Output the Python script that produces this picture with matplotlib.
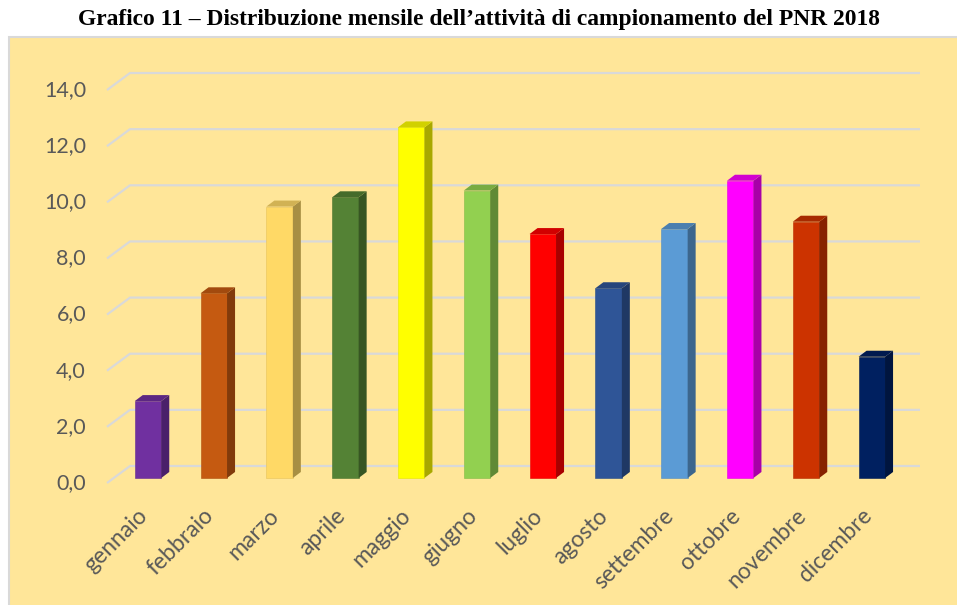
import matplotlib.pyplot as plt
from matplotlib.patches import Rectangle, Polygon

# dati
mesi = ['gennaio', 'febbraio', 'marzo', 'aprile', 'maggio', 'giugno',
        'luglio', 'agosto', 'settembre', 'ottobre', 'novembre', 'dicembre']
valori = [2.74, 6.58, 9.67, 10.0, 12.49, 10.24, 8.69, 6.76, 8.87, 10.59, 9.13, 4.32]
colori = ['#7030A0', '#C55A11', '#FFD966', '#548235', '#FFFF00', '#92D050',
          '#FF0000', '#2F5597', '#5B9BD5', '#FF00FF', '#CC3300', '#002060']
tick_vals = [0, 2, 4, 6, 8, 10, 12, 14]
tick_labels = ['0,0', '2,0', '4,0', '6,0', '8,0', '10,0', '12,0', '14,0']

W, H = 957, 605
PX_CAT = 65.8   # pixel per categoria
PX_VAL = 28.07  # pixel per unità


def ux(px):
    return px / PX_CAT


def uy(px):
    return px / PX_VAL


def shade(c, f):
    r, g, b = [int(c[k:k + 2], 16) / 255 for k in (1, 3, 5)]
    return (r * f, g * f, b * f)


fig = plt.figure(figsize=(W / 100, H / 100), dpi=100)
fig.patch.set_facecolor('white')
fig.add_artist(Rectangle((9 / W, -0.01), 1.0, (H - 37) / H + 0.01, transform=fig.transFigure,
                         facecolor='#FFE699', edgecolor='#D9D9D9', lw=1.5, zorder=-5))

fig.text(0.5, 1 - 19 / H, 'Grafico 11 – Distribuzione mensile dell’attività di campionamento del PNR 2018',
         ha='center', va='center', fontfamily='Liberation Serif', fontweight='bold', fontsize=16.9)

# assi: x = indice del mese, y = valore (piano di fondo)
ax = fig.add_axes([100 / W, 110 / H, 830 / W, 435 / H])
ax.set_xlim(ux(100 - 148), ux(930 - 148))
ax.set_ylim(uy(110 - 139), uy(545 - 139))
ax.axis('off')

# griglia con prospettiva
for v, lab in zip(tick_vals, tick_labels):
    ax.plot([ux(-41), ux(-18), ux(772)], [v - uy(17), v, v],
            color='#D9D9D9', lw=1.6, zorder=1, solid_capstyle='butt')
    ax.text(ux(-62), v - uy(17), lab, ha='right', va='center',
            fontfamily='Lato', fontsize=15.5, color='#595959')

# barre pseudo-3D
base = -uy(12)
hw = ux(13.25)
dx, dy = ux(8), uy(6)
for i, (v, c) in enumerate(zip(valori, colori)):
    x0, x1 = i - hw, i + hw
    top = base + v
    ax.bar(i, v, width=2 * hw, bottom=base, color=c, zorder=3,
           edgecolor=shade(c, 0.9), lw=0.4)
    ax.add_patch(Polygon([(x1, base), (x1 + dx, base + dy), (x1 + dx, top + dy), (x1, top)],
                         closed=True, facecolor=shade(c, 0.66), edgecolor='none', zorder=3))
    ax.add_patch(Polygon([(x0, top), (x1, top), (x1 + dx, top + dy), (x0 + dx, top + dy)],
                         closed=True, facecolor=shade(c, 0.82), edgecolor='none', zorder=3))
    ax.text(i - ux(11), base - uy(27), mesi[i], rotation=45, rotation_mode='anchor',
            ha='right', va='top', fontfamily='Lato', fontsize=16.5, color='#595959')

fig.savefig('out.png', dpi=100)
